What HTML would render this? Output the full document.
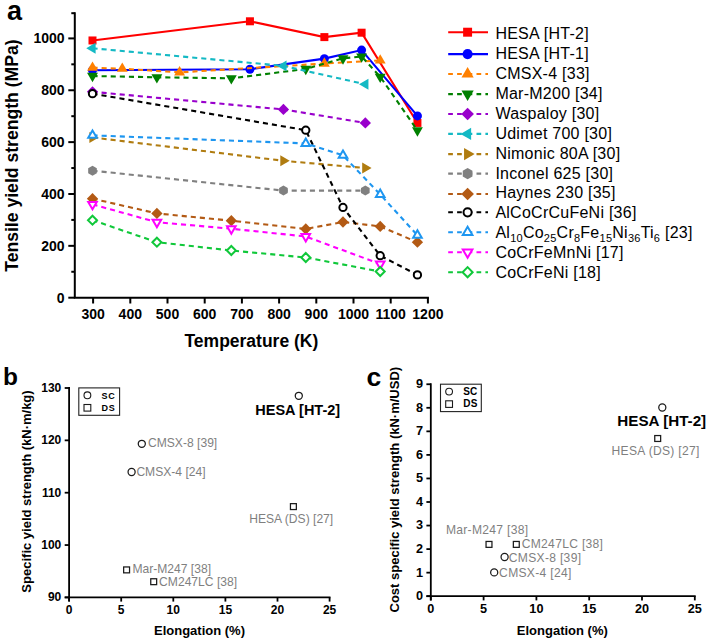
<!DOCTYPE html><html><head><meta charset="utf-8"><style>
html,body{margin:0;padding:0;background:#fff;width:708px;height:639px;overflow:hidden}
svg{display:block;font-family:"Liberation Sans", sans-serif}
</style></head><body>
<svg width="708" height="639" viewBox="0 0 708 639">
<rect width="708" height="639" fill="#fff"/>
<text x="6.9" y="20.2" font-size="27" font-weight="bold">a</text>
<polyline points="92.50,40.47 249.94,21.29 324.38,37.10 361.60,32.70 417.43,122.93" fill="none" stroke="#ff0000" stroke-width="2.1" />
<rect x="88.50" y="36.47" width="8.00" height="8.00" fill="#ff0000" />
<rect x="245.94" y="17.29" width="8.00" height="8.00" fill="#ff0000" />
<rect x="320.38" y="33.10" width="8.00" height="8.00" fill="#ff0000" />
<rect x="357.60" y="28.70" width="8.00" height="8.00" fill="#ff0000" />
<rect x="413.43" y="118.93" width="8.00" height="8.00" fill="#ff0000" />
<polyline points="92.50,70.29 249.94,69.26 324.38,58.63 361.60,50.07 417.43,115.93" fill="none" stroke="#0000ff" stroke-width="2.1" />
<circle cx="92.50" cy="70.29" r="4.50" fill="#0000ff" />
<circle cx="249.94" cy="69.26" r="4.50" fill="#0000ff" />
<circle cx="324.38" cy="58.63" r="4.50" fill="#0000ff" />
<circle cx="361.60" cy="50.07" r="4.50" fill="#0000ff" />
<circle cx="417.43" cy="115.93" r="4.50" fill="#0000ff" />
<polyline points="92.50,67.70 122.28,68.74 179.59,72.37 324.38,63.55 380.21,60.44" fill="none" stroke="#ff8000" stroke-width="2.1" stroke-dasharray="5.1,4.0"/>
<polygon points="92.50,61.43 97.95,70.83 87.05,70.83" fill="#ff8000" />
<polygon points="122.28,62.47 127.73,71.87 116.83,71.87" fill="#ff8000" />
<polygon points="179.59,66.10 185.04,75.50 174.14,75.50" fill="#ff8000" />
<polygon points="324.38,57.29 329.83,66.69 318.93,66.69" fill="#ff8000" />
<polygon points="380.21,54.17 385.66,63.57 374.76,63.57" fill="#ff8000" />
<polyline points="92.50,76.00 156.89,77.30 231.33,78.33 305.77,69.00 342.99,58.37 361.60,56.55 380.21,76.78 417.43,130.45" fill="none" stroke="#008000" stroke-width="2.1" stroke-dasharray="5.1,4.0"/>
<polygon points="92.50,82.27 97.95,72.87 87.05,72.87" fill="#008000" />
<polygon points="156.89,83.56 162.34,74.16 151.44,74.16" fill="#008000" />
<polygon points="231.33,84.60 236.78,75.20 225.88,75.20" fill="#008000" />
<polygon points="305.77,75.26 311.22,65.86 300.32,65.86" fill="#008000" />
<polygon points="342.99,64.63 348.44,55.23 337.54,55.23" fill="#008000" />
<polygon points="361.60,62.82 367.05,53.42 356.15,53.42" fill="#008000" />
<polygon points="380.21,83.04 385.66,73.64 374.76,73.64" fill="#008000" />
<polygon points="417.43,136.72 422.88,127.32 411.98,127.32" fill="#008000" />
<polyline points="92.50,91.82 283.44,109.45 365.32,122.93" fill="none" stroke="#9900cc" stroke-width="2.1" stroke-dasharray="5.1,4.0"/>
<polygon points="92.50,86.17 98.15,91.82 92.50,97.47 86.85,91.82" fill="#9900cc" />
<polygon points="283.44,103.80 289.09,109.45 283.44,115.10 277.79,109.45" fill="#9900cc" />
<polygon points="365.32,117.28 370.97,122.93 365.32,128.58 359.67,122.93" fill="#9900cc" />
<polyline points="92.50,48.25 283.44,65.89 365.32,84.30" fill="none" stroke="#14b9c4" stroke-width="2.1" stroke-dasharray="5.1,4.0"/>
<polygon points="86.23,48.25 95.63,42.80 95.63,53.70" fill="#14b9c4" />
<polygon points="277.17,65.89 286.57,60.44 286.57,71.34" fill="#14b9c4" />
<polygon points="359.06,84.30 368.46,78.85 368.46,89.75" fill="#14b9c4" />
<polyline points="92.50,137.45 283.44,160.79 365.32,168.05" fill="none" stroke="#b07c10" stroke-width="2.1" stroke-dasharray="5.1,4.0"/>
<polygon points="98.77,137.45 89.37,132.00 89.37,142.90" fill="#b07c10" />
<polygon points="289.71,160.79 280.31,155.34 280.31,166.24" fill="#b07c10" />
<polygon points="371.59,168.05 362.19,162.60 362.19,173.50" fill="#b07c10" />
<polyline points="92.50,170.64 283.44,190.61 365.32,190.61" fill="none" stroke="#808080" stroke-width="2.1" stroke-dasharray="5.1,4.0"/>
<polygon points="96.83,173.14 92.50,175.64 88.17,173.14 88.17,168.14 92.50,165.64 96.83,168.14" fill="#808080" />
<polygon points="287.77,193.11 283.44,195.61 279.11,193.11 279.11,188.11 283.44,185.61 287.77,188.11" fill="#808080" />
<polygon points="369.65,193.11 365.32,195.61 360.99,193.11 360.99,188.11 365.32,185.61 369.65,188.11" fill="#808080" />
<polyline points="92.50,198.65 156.89,213.43 231.33,220.69 305.77,228.99 342.99,221.98 380.21,226.39 417.43,242.21" fill="none" stroke="#b35a14" stroke-width="2.1" stroke-dasharray="5.1,4.0"/>
<polygon points="92.50,193.00 98.15,198.65 92.50,204.30 86.85,198.65" fill="#b35a14" />
<polygon points="156.89,207.78 162.54,213.43 156.89,219.08 151.24,213.43" fill="#b35a14" />
<polygon points="231.33,215.04 236.98,220.69 231.33,226.34 225.68,220.69" fill="#b35a14" />
<polygon points="305.77,223.34 311.42,228.99 305.77,234.64 300.12,228.99" fill="#b35a14" />
<polygon points="342.99,216.33 348.64,221.98 342.99,227.63 337.34,221.98" fill="#b35a14" />
<polygon points="380.21,220.74 385.86,226.39 380.21,232.04 374.56,226.39" fill="#b35a14" />
<polygon points="417.43,236.56 423.08,242.21 417.43,247.86 411.78,242.21" fill="#b35a14" />
<polyline points="92.50,93.63 305.77,130.19 342.99,207.46 380.21,255.69 417.43,274.88" fill="none" stroke="#000000" stroke-width="2.1" stroke-dasharray="5.1,4.0"/>
<circle cx="92.50" cy="93.63" r="3.65" fill="#fff" stroke="#000000" stroke-width="2.0"/>
<circle cx="305.77" cy="130.19" r="3.65" fill="#fff" stroke="#000000" stroke-width="2.0"/>
<circle cx="342.99" cy="207.46" r="3.65" fill="#fff" stroke="#000000" stroke-width="2.0"/>
<circle cx="380.21" cy="255.69" r="3.65" fill="#fff" stroke="#000000" stroke-width="2.0"/>
<circle cx="417.43" cy="274.88" r="3.65" fill="#fff" stroke="#000000" stroke-width="2.0"/>
<polyline points="92.50,135.38 305.77,143.42 342.99,155.34 380.21,194.50 417.43,235.21" fill="none" stroke="#1e96f0" stroke-width="2.1" stroke-dasharray="5.1,4.0"/>
<polygon points="92.50,130.44 96.80,137.84 88.20,137.84" fill="#fff" stroke="#1e96f0" stroke-width="2.0"/>
<polygon points="305.77,138.48 310.07,145.88 301.47,145.88" fill="#fff" stroke="#1e96f0" stroke-width="2.0"/>
<polygon points="342.99,150.41 347.29,157.81 338.69,157.81" fill="#fff" stroke="#1e96f0" stroke-width="2.0"/>
<polygon points="380.21,189.57 384.51,196.97 375.91,196.97" fill="#fff" stroke="#1e96f0" stroke-width="2.0"/>
<polygon points="417.43,230.28 421.73,237.68 413.13,237.68" fill="#fff" stroke="#1e96f0" stroke-width="2.0"/>
<polyline points="92.50,204.35 156.89,222.24 231.33,228.73 305.77,236.51 380.21,263.99" fill="none" stroke="#ff00ff" stroke-width="2.1" stroke-dasharray="5.1,4.0"/>
<polygon points="92.50,209.29 96.80,201.89 88.20,201.89" fill="#fff" stroke="#ff00ff" stroke-width="2.0"/>
<polygon points="156.89,227.18 161.19,219.78 152.59,219.78" fill="#fff" stroke="#ff00ff" stroke-width="2.0"/>
<polygon points="231.33,233.66 235.63,226.26 227.03,226.26" fill="#fff" stroke="#ff00ff" stroke-width="2.0"/>
<polygon points="305.77,241.44 310.07,234.04 301.47,234.04" fill="#fff" stroke="#ff00ff" stroke-width="2.0"/>
<polygon points="380.21,268.92 384.51,261.52 375.91,261.52" fill="#fff" stroke="#ff00ff" stroke-width="2.0"/>
<polyline points="92.50,220.17 156.89,242.21 231.33,250.51 305.77,257.51 380.21,271.51" fill="none" stroke="#10c83a" stroke-width="2.1" stroke-dasharray="5.1,4.0"/>
<polygon points="92.50,215.67 97.00,220.17 92.50,224.67 88.00,220.17" fill="#fff" stroke="#10c83a" stroke-width="2.0"/>
<polygon points="156.89,237.71 161.39,242.21 156.89,246.71 152.39,242.21" fill="#fff" stroke="#10c83a" stroke-width="2.0"/>
<polygon points="231.33,246.01 235.83,250.51 231.33,255.01 226.83,250.51" fill="#fff" stroke="#10c83a" stroke-width="2.0"/>
<polygon points="305.77,253.01 310.27,257.51 305.77,262.01 301.27,257.51" fill="#fff" stroke="#10c83a" stroke-width="2.0"/>
<polygon points="380.21,267.01 384.71,271.51 380.21,276.01 375.71,271.51" fill="#fff" stroke="#10c83a" stroke-width="2.0"/>
<g stroke="#000" stroke-width="2" fill="none">
<path d="M74.8,12.2 V298.7 M73.8,297.7 H428.9"/>
<path d="M68.3,297.70 H74.8"/>
<path d="M71.3,271.77 H74.8"/>
<path d="M68.3,245.84 H74.8"/>
<path d="M71.3,219.91 H74.8"/>
<path d="M68.3,193.98 H74.8"/>
<path d="M71.3,168.05 H74.8"/>
<path d="M68.3,142.12 H74.8"/>
<path d="M71.3,116.19 H74.8"/>
<path d="M68.3,90.26 H74.8"/>
<path d="M71.3,64.33 H74.8"/>
<path d="M68.3,38.40 H74.8"/>
<path d="M71.3,13.20 H74.8"/>
<path d="M93.10,297.7 V303.5"/>
<path d="M130.30,297.7 V303.5"/>
<path d="M167.50,297.7 V303.5"/>
<path d="M204.70,297.7 V303.5"/>
<path d="M241.90,297.7 V303.5"/>
<path d="M279.10,297.7 V303.5"/>
<path d="M316.30,297.7 V303.5"/>
<path d="M353.50,297.7 V303.5"/>
<path d="M390.70,297.7 V303.5"/>
<path d="M427.90,297.7 V303.5"/>
</g>
<g font-size="14" font-weight="bold" text-anchor="end">
<text x="64.6" y="302.70">0</text>
<text x="64.6" y="250.84">200</text>
<text x="64.6" y="198.98">400</text>
<text x="64.6" y="147.12">600</text>
<text x="64.6" y="95.26">800</text>
<text x="64.6" y="43.40">1000</text>
</g>
<g font-size="14" font-weight="bold" text-anchor="middle">
<text x="93.10" y="318.9">300</text>
<text x="130.30" y="318.9">400</text>
<text x="167.50" y="318.9">500</text>
<text x="204.70" y="318.9">600</text>
<text x="241.90" y="318.9">700</text>
<text x="279.10" y="318.9">800</text>
<text x="316.30" y="318.9">900</text>
<text x="353.50" y="318.9">1000</text>
<text x="390.70" y="318.9">1100</text>
<text x="427.90" y="318.9">1200</text>
</g>
<text x="251.4" y="346.7" font-size="17.5" font-weight="bold" text-anchor="middle">Temperature (K)</text>
<text transform="translate(18.4,155.6) rotate(-90)" font-size="17.6" font-weight="bold" text-anchor="middle">Tensile yield strength (MPa)</text>
<path d="M448.2,32.20 H467.6 M467.6,32.20 H488" fill="none" stroke="#ff0000" stroke-width="2.1" />
<rect x="463.12" y="27.72" width="8.96" height="8.96" fill="#ff0000" />
<text x="495.4" y="39.00" font-size="16" letter-spacing="0.25">HESA [HT-2]</text>
<path d="M448.2,54.10 H467.6 M467.6,54.10 H488" fill="none" stroke="#0000ff" stroke-width="2.1" />
<circle cx="467.60" cy="54.10" r="5.04" fill="#0000ff" />
<text x="495.4" y="58.93" font-size="16" letter-spacing="0.25">HESA [HT-1]</text>
<path d="M448.2,74.00 H467.6 M467.6,74.00 H488" fill="none" stroke="#ff8000" stroke-width="2.1" stroke-dasharray="4.7,4.2"/>
<polygon points="467.60,66.98 473.70,77.51 461.50,77.51" fill="#ff8000" />
<text x="495.4" y="78.86" font-size="16" letter-spacing="0.25">CMSX-4 [33]</text>
<path d="M448.2,94.10 H467.6 M467.6,94.10 H488" fill="none" stroke="#008000" stroke-width="2.1" stroke-dasharray="4.7,4.2"/>
<polygon points="467.60,101.12 473.70,90.59 461.50,90.59" fill="#008000" />
<text x="495.4" y="98.79" font-size="16" letter-spacing="0.25">Mar-M200 [34]</text>
<path d="M448.2,114.00 H467.6 M467.6,114.00 H488" fill="none" stroke="#9900cc" stroke-width="2.1" stroke-dasharray="4.7,4.2"/>
<polygon points="467.60,107.67 473.93,114.00 467.60,120.33 461.27,114.00" fill="#9900cc" />
<text x="495.4" y="118.72" font-size="16" letter-spacing="0.25">Waspaloy [30]</text>
<path d="M448.2,133.90 H467.6 M467.6,133.90 H488" fill="none" stroke="#14b9c4" stroke-width="2.1" stroke-dasharray="4.7,4.2"/>
<polygon points="460.58,133.90 471.11,127.80 471.11,140.00" fill="#14b9c4" />
<text x="495.4" y="138.65" font-size="16" letter-spacing="0.25">Udimet 700 [30]</text>
<path d="M448.2,154.10 H467.6 M467.6,154.10 H488" fill="none" stroke="#b07c10" stroke-width="2.1" stroke-dasharray="4.7,4.2"/>
<polygon points="474.62,154.10 464.09,148.00 464.09,160.20" fill="#b07c10" />
<text x="495.4" y="158.58" font-size="16" letter-spacing="0.25">Nimonic 80A [30]</text>
<path d="M448.2,173.60 H467.6 M467.6,173.60 H488" fill="none" stroke="#808080" stroke-width="2.1" stroke-dasharray="4.7,4.2"/>
<polygon points="472.45,176.40 467.60,179.20 462.75,176.40 462.75,170.80 467.60,168.00 472.45,170.80" fill="#808080" />
<text x="495.4" y="178.51" font-size="16" letter-spacing="0.25">Inconel 625 [30]</text>
<path d="M448.2,194.00 H467.6 M467.6,194.00 H488" fill="none" stroke="#b35a14" stroke-width="2.1" stroke-dasharray="4.7,4.2"/>
<polygon points="467.60,187.67 473.93,194.00 467.60,200.33 461.27,194.00" fill="#b35a14" />
<text x="495.4" y="198.44" font-size="16" letter-spacing="0.25">Haynes 230 [35]</text>
<path d="M448.2,212.30 H467.6 M467.6,212.30 H488" fill="none" stroke="#000000" stroke-width="2.1" stroke-dasharray="4.7,4.2"/>
<circle cx="467.60" cy="212.30" r="4.09" fill="#fff" stroke="#000000" stroke-width="2.0"/>
<text x="495.4" y="218.37" font-size="16" letter-spacing="0.25">AlCoCrCuFeNi [36]</text>
<path d="M448.2,232.30 H467.6 M467.6,232.30 H488" fill="none" stroke="#1e96f0" stroke-width="2.1" stroke-dasharray="4.7,4.2"/>
<polygon points="467.60,226.77 472.42,235.06 462.78,235.06" fill="#fff" stroke="#1e96f0" stroke-width="2.0"/>
<text x="495.4" y="238.30" font-size="16" letter-spacing="0.25">Al<tspan font-size="11" dy="3.6">10</tspan><tspan dy="-3.6">Co</tspan><tspan font-size="11" dy="3.6">25</tspan><tspan dy="-3.6">Cr</tspan><tspan font-size="11" dy="3.6">8</tspan><tspan dy="-3.6">Fe</tspan><tspan font-size="11" dy="3.6">15</tspan><tspan dy="-3.6">Ni</tspan><tspan font-size="11" dy="3.6">36</tspan><tspan dy="-3.6">Ti</tspan><tspan font-size="11" dy="3.6">6</tspan><tspan dy="-3.6"> [23]</tspan></text>
<path d="M448.2,252.20 H467.6 M467.6,252.20 H488" fill="none" stroke="#ff00ff" stroke-width="2.1" stroke-dasharray="4.7,4.2"/>
<polygon points="467.60,257.73 472.42,249.44 462.78,249.44" fill="#fff" stroke="#ff00ff" stroke-width="2.0"/>
<text x="495.4" y="258.23" font-size="16" letter-spacing="0.25">CoCrFeMnNi [17]</text>
<path d="M448.2,272.20 H467.6 M467.6,272.20 H488" fill="none" stroke="#10c83a" stroke-width="2.1" stroke-dasharray="4.7,4.2"/>
<polygon points="467.60,267.16 472.64,272.20 467.60,277.24 462.56,272.20" fill="#fff" stroke="#10c83a" stroke-width="2.0"/>
<text x="495.4" y="278.16" font-size="16" letter-spacing="0.25">CoCrFeNi [18]</text>
<text x="3.0" y="384.7" font-size="24.5" font-weight="bold">b</text>
<g stroke="#000" stroke-width="1.8" fill="none">
<path d="M69.10,387.10 V601.60 M64.70,597.40 H330.50"/>
<path d="M64.70,597.40 H69.10"/>
<path d="M64.70,545.05 H69.10"/>
<path d="M64.70,492.70 H69.10"/>
<path d="M64.70,440.35 H69.10"/>
<path d="M64.70,388.00 H69.10"/>
<path d="M69.10,597.40 V601.60"/>
<path d="M121.20,597.40 V601.60"/>
<path d="M173.30,597.40 V601.60"/>
<path d="M225.40,597.40 V601.60"/>
<path d="M277.50,597.40 V601.60"/>
<path d="M329.60,597.40 V601.60"/>
</g>
<g font-size="12" font-weight="bold" text-anchor="end">
<text x="61.30" y="601.30">90</text>
<text x="61.30" y="548.95">100</text>
<text x="61.30" y="496.60">110</text>
<text x="61.30" y="444.25">120</text>
<text x="61.30" y="391.90">130</text>
</g>
<g font-size="12" font-weight="bold" text-anchor="middle">
<text x="69.10" y="614.30">0</text>
<text x="121.20" y="614.30">5</text>
<text x="173.30" y="614.30">10</text>
<text x="225.40" y="614.30">15</text>
<text x="277.50" y="614.30">20</text>
<text x="329.60" y="614.30">25</text>
</g>
<text x="199.5" y="634.6" font-size="13" font-weight="bold" text-anchor="middle">Elongation (%)</text>
<text transform="translate(31.4,491.5) rotate(-90)" font-size="13" font-weight="bold" text-anchor="middle">Specific yield strength (kN·m/kg)</text>
<rect x="78.80" y="387.90" width="40.8" height="27.4" fill="none" stroke="#222" stroke-width="1.1"/>
<circle cx="87.40" cy="395.30" r="3.4" fill="none" stroke="#1a1a1a" stroke-width="1.1"/>
<rect x="84.00" y="404.50" width="6.8" height="6.6" fill="none" stroke="#1a1a1a" stroke-width="1.1"/>
<text x="101.60" y="398.70" font-size="9" font-weight="bold" letter-spacing="0.6">SC</text>
<text x="101.60" y="410.90" font-size="9" font-weight="bold" letter-spacing="0.6">DS</text>
<circle cx="298.80" cy="395.80" r="3.55" fill="none" stroke="#1a1a1a" stroke-width="1.25"/>
<text x="255.3" y="414.6" font-size="14.5" font-weight="bold">HESA [HT-2]</text>
<circle cx="141.80" cy="443.80" r="3.55" fill="none" stroke="#1a1a1a" stroke-width="1.25"/>
<text x="148.0" y="447.2" font-size="12.1" fill="#7f7f7f">CMSX-8 [39]</text>
<circle cx="131.60" cy="472.00" r="3.55" fill="none" stroke="#1a1a1a" stroke-width="1.25"/>
<text x="136.4" y="476.3" font-size="12.1" fill="#7f7f7f">CMSX-4 [24]</text>
<rect x="290.45" y="503.65" width="5.9" height="5.9" fill="none" stroke="#1a1a1a" stroke-width="1.25"/>
<text x="249.2" y="523.1" font-size="12.1" fill="#7f7f7f">HESA (DS) [27]</text>
<rect x="123.65" y="566.95" width="5.9" height="5.9" fill="none" stroke="#1a1a1a" stroke-width="1.25"/>
<text x="132.4" y="572.5" font-size="12.1" fill="#7f7f7f">Mar-M247 [38]</text>
<rect x="150.75" y="578.75" width="5.9" height="5.9" fill="none" stroke="#1a1a1a" stroke-width="1.25"/>
<text x="159.1" y="585.5" font-size="12.1" fill="#7f7f7f">CM247LC [38]</text>
<text x="366.6" y="385.8" font-size="26.5" font-weight="bold">c</text>
<g stroke="#000" stroke-width="1.8" fill="none">
<path d="M430.80,383.35 V600.40 M426.40,596.20 H695.70"/>
<path d="M426.40,596.20 H430.80"/>
<path d="M426.40,572.65 H430.80"/>
<path d="M426.40,549.10 H430.80"/>
<path d="M426.40,525.55 H430.80"/>
<path d="M426.40,502.00 H430.80"/>
<path d="M426.40,478.45 H430.80"/>
<path d="M426.40,454.90 H430.80"/>
<path d="M426.40,431.35 H430.80"/>
<path d="M426.40,407.80 H430.80"/>
<path d="M426.40,384.25 H430.80"/>
<path d="M430.80,596.20 V600.40"/>
<path d="M483.60,596.20 V600.40"/>
<path d="M536.40,596.20 V600.40"/>
<path d="M589.20,596.20 V600.40"/>
<path d="M642.00,596.20 V600.40"/>
<path d="M694.80,596.20 V600.40"/>
</g>
<g font-size="12.7" font-weight="bold" text-anchor="end">
<text x="423.00" y="600.10">0</text>
<text x="423.00" y="576.55">1</text>
<text x="423.00" y="553.00">2</text>
<text x="423.00" y="529.45">3</text>
<text x="423.00" y="505.90">4</text>
<text x="423.00" y="482.35">5</text>
<text x="423.00" y="458.80">6</text>
<text x="423.00" y="435.25">7</text>
<text x="423.00" y="411.70">8</text>
<text x="423.00" y="388.15">9</text>
</g>
<g font-size="12.7" font-weight="bold" text-anchor="middle">
<text x="430.80" y="613.10">0</text>
<text x="483.60" y="613.10">5</text>
<text x="536.40" y="613.10">10</text>
<text x="589.20" y="613.10">15</text>
<text x="642.00" y="613.10">20</text>
<text x="694.80" y="613.10">25</text>
</g>
<text x="562.3" y="634.6" font-size="13" font-weight="bold" text-anchor="middle">Elongation (%)</text>
<text transform="translate(399.1,489.7) rotate(-90)" font-size="13" font-weight="bold" text-anchor="middle">Cost specific yield strength (kN·m/USD)</text>
<rect x="440.50" y="384.20" width="40.8" height="27.4" fill="none" stroke="#222" stroke-width="1.1"/>
<circle cx="449.10" cy="391.60" r="3.4" fill="none" stroke="#1a1a1a" stroke-width="1.1"/>
<rect x="445.70" y="400.80" width="6.8" height="6.6" fill="none" stroke="#1a1a1a" stroke-width="1.1"/>
<text x="463.30" y="395.00" font-size="10" font-weight="bold" letter-spacing="0.15">SC</text>
<text x="463.30" y="407.20" font-size="10" font-weight="bold" letter-spacing="0.15">DS</text>
<circle cx="662.30" cy="407.50" r="3.55" fill="none" stroke="#1a1a1a" stroke-width="1.25"/>
<text x="617.3" y="425.5" font-size="15.2" font-weight="bold">HESA [HT-2]</text>
<rect x="654.75" y="435.55" width="5.9" height="5.9" fill="none" stroke="#1a1a1a" stroke-width="1.25"/>
<text x="611.5" y="454.9" font-size="12.1" letter-spacing="0.3" fill="#7f7f7f">HESA (DS) [27]</text>
<rect x="486.05" y="541.45" width="5.9" height="5.9" fill="none" stroke="#1a1a1a" stroke-width="1.25"/>
<text x="445.9" y="534.0" font-size="12.1" letter-spacing="0.3" fill="#7f7f7f">Mar-M247 [38]</text>
<rect x="513.35" y="541.45" width="5.9" height="5.9" fill="none" stroke="#1a1a1a" stroke-width="1.25"/>
<text x="521.7" y="548.3" font-size="12.1" letter-spacing="0.3" fill="#7f7f7f">CM247LC [38]</text>
<circle cx="504.60" cy="557.00" r="3.55" fill="none" stroke="#1a1a1a" stroke-width="1.25"/>
<text x="508.8" y="561.5" font-size="12.1" letter-spacing="0.3" fill="#7f7f7f">CMSX-8 [39]</text>
<circle cx="494.20" cy="572.40" r="3.55" fill="none" stroke="#1a1a1a" stroke-width="1.25"/>
<text x="499.1" y="576.7" font-size="12.1" letter-spacing="0.3" fill="#7f7f7f">CMSX-4 [24]</text>
</svg></body></html>
